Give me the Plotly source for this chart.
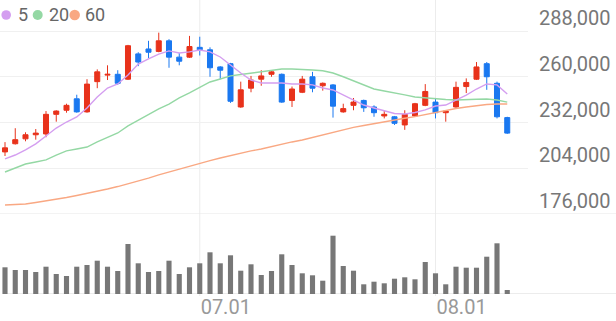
import plotly.graph_objects as go

# ---------------- data ----------------
dates = ["06.03", "06.04", "06.05", "06.07", "06.10", "06.11", "06.12", "06.13", "06.14",
         "06.17", "06.18", "06.19", "06.20", "06.21", "06.24", "06.25", "06.26", "06.27", "06.28",
         "07.01", "07.02", "07.03", "07.04", "07.05", "07.08", "07.09", "07.10", "07.11", "07.12",
         "07.15", "07.16", "07.17", "07.18", "07.19", "07.22", "07.23", "07.24", "07.25", "07.26",
         "07.29", "07.30", "07.31", "08.01", "08.02", "08.05", "08.06", "08.07", "08.08", "08.09",
         "08.12"]

opens = [214000, 219000, 222000, 224500, 225000, 237000, 239500, 246500, 238500, 257000,
         261000, 261500, 258500, 274000, 277000, 275500, 282000, 272000, 272000, 278000,
         276500, 266000, 268000, 241500, 253000, 258500, 261500, 261500, 245500, 250500,
         260000, 254500, 255000, 238500, 242500, 245500, 241500, 236000, 235500, 230500,
         236000, 242500, 244500, 238000, 241500, 254000, 258500, 268000, 256000, 235000]
highs = [220000, 228500, 226000, 228000, 239000, 239500, 243500, 249000, 258500, 264500,
         267000, 264000, 279500, 275000, 282000, 287000, 283000, 274500, 285000, 284500,
         278000, 266500, 268500, 257000, 260500, 264000, 263500, 262000, 254000, 260500,
         263000, 256500, 255500, 243500, 247000, 246000, 242500, 239000, 236000, 239500,
         244000, 255500, 247000, 239500, 257000, 259000, 269000, 269000, 257000, 235500]
lows = [211500, 218500, 220500, 221500, 223000, 232500, 238000, 238000, 238000, 253000,
        258000, 255000, 258000, 266500, 271500, 275000, 265500, 267000, 271500, 273000,
        260000, 258500, 244000, 241000, 250500, 254500, 260000, 244000, 241500, 250000,
        250500, 251500, 235000, 238000, 239500, 238500, 235500, 234500, 230500, 227500,
        235500, 242000, 234500, 232500, 241000, 250000, 258000, 252000, 234500, 225000]
closes = [216500, 221500, 224500, 225500, 237000, 239000, 242500, 238500, 255500, 263000,
          261500, 256000, 279000, 269000, 275000, 282000, 272000, 269500, 278500, 276500,
          265500, 264000, 245000, 252000, 258000, 260500, 263000, 244500, 252500, 258500,
          253000, 256000, 242000, 240500, 244500, 241000, 238000, 237000, 231500, 237000,
          243500, 251000, 238000, 239000, 253500, 256500, 266000, 260000, 235500, 225500]

ma5 = [209700, 212100, 215200, 218900, 223700, 228600, 232300, 235400, 240900, 247600,
       253100, 255600, 261100, 267800, 270900, 273900, 275800, 274500, 275200, 276400,
       275200, 272100, 267200, 262300, 258000, 256200, 256200, 256200, 255600, 255600,
       255000, 253100, 251900, 248800, 245800, 242700, 240900, 239000, 237500, 237200,
       238100, 239700, 242100, 242700, 245800, 248800, 252500, 255600, 255000, 249400]
ma20 = [201700, 204100, 206600, 207800, 209100, 212100, 214600, 215800, 217000, 220100,
        223100, 225600, 229900, 233500, 236600, 240300, 243300, 247000, 250100, 253700,
        256800, 258600, 260500, 261400, 262300, 263200, 264100, 264700, 264700, 264600,
        264100, 263700, 262300, 260000, 257400, 254900, 252500, 251300, 249900, 248900,
        247600, 247000, 246400, 246100, 245800, 245800, 246200, 246400, 245800, 244500]
ma60 = [181500, 181800, 182100, 183000, 183900, 184900, 186100, 187300, 188500, 190100,
        191300, 192800, 194400, 196200, 198000, 199900, 201700, 203600, 205400, 207200,
        208700, 210300, 211800, 213300, 214600, 215800, 217300, 218800, 220100, 221300,
        222800, 224400, 226200, 227700, 229000, 230200, 231400, 232600, 233500, 234600,
        235600, 236900, 238100, 239300, 240600, 241500, 242400, 243000, 243300, 243300]

volume = [267, 240, 240, 220, 273, 200, 180, 273, 290, 333,
          273, 230, 500, 307, 220, 230, 333, 200, 267, 307,
          417, 307, 387, 233, 297, 190, 230, 397, 290, 207,
          187, 133, 583, 280, 233, 97, 123, 107, 153, 167,
          147, 320, 207, 97, 273, 263, 263, 373, 507, 40]

x_ticks = ["07.01", "08.01"]
price_ticks = [176000, 204000, 232000, 260000, 288000]
ma_names = ["5", "20", "60"]

# ---------------- style ----------------
RED = "#e8321b"
BLUE = "#1a78f0"
MA_COLORS = ["#d49ef0", "#94d8a4", "#f9a883"]
VOL_COLOR = "#777777"
GRID = "#f0f0f0"
W, H = 616, 321
FONT = "Roboto"


def px(x):
    return x / W


def py(y):
    return 1 - y / H


x_end = 528
x_range = [-5 / 10.25, (x_end - 5) / 10.25]

fig = go.Figure()

fig.add_trace(go.Candlestick(
    x=dates, open=opens, high=highs, low=lows, close=closes,
    increasing=dict(line=dict(color=RED, width=1), fillcolor=RED),
    decreasing=dict(line=dict(color=BLUE, width=1), fillcolor=BLUE),
    whiskerwidth=0, xaxis="x", yaxis="y", showlegend=False, hoverinfo="skip",
))

for vals, col in zip([ma60, ma20, ma5], [MA_COLORS[2], MA_COLORS[1], MA_COLORS[0]]):
    fig.add_trace(go.Scatter(x=dates, y=vals, mode="lines",
                             line=dict(color=col, width=1.4),
                             xaxis="x", yaxis="y", showlegend=False, hoverinfo="skip"))

fig.add_trace(go.Bar(x=dates, y=volume, marker=dict(color=VOL_COLOR, line=dict(width=0)),
                     width=0.5, xaxis="x2", yaxis="y2", showlegend=False, hoverinfo="skip"))

shapes = []
# vertical gridlines through both panes (category index of each tick date)
for t in x_ticks:
    idx = dates.index(t)
    shapes.append(dict(type="line", xref="x", yref="paper", x0=idx, x1=idx,
                       y0=py(296), y1=1, line=dict(color="#ececec", width=1), layer="below"))
# bottom line of price pane & volume baseline (full width)
shapes.append(dict(type="line", xref="paper", yref="y", x0=0, x1=1, y0=176000, y1=176000,
                   line=dict(color="#e8e8e8", width=1.2), layer="below"))
shapes.append(dict(type="line", xref="paper", yref="y2", x0=px(3), x1=1, y0=0, y1=0,
                   line=dict(color="#e6e6e6", width=1.5), layer="below"))

# legend
legend_dots = [(6.2, 9.6), (37.7, 10), (74.7, 10.5)]
legend_text_x = [16, 46.5, 83]
annotations = []
for (cx, d), tx, name, col in zip(legend_dots, legend_text_x, ma_names, MA_COLORS):
    shapes.append(dict(type="circle", xref="paper", yref="paper",
                       x0=px(cx - d / 2), x1=px(cx + d / 2), y0=py(15 + d / 2), y1=py(15 - d / 2),
                       fillcolor=col, line=dict(width=0)))
    annotations.append(dict(xref="paper", yref="paper", x=px(tx), y=py(14.7), text=name,
                            showarrow=False, xanchor="left", yanchor="middle",
                            font=dict(family=FONT, size=18, color="#666666")))

fig.update_layout(
    width=W, height=H,
    margin=dict(l=0, r=0, t=0, b=0, autoexpand=False),
    paper_bgcolor="white", plot_bgcolor="white",
    showlegend=False,
    shapes=shapes, annotations=annotations,
    xaxis=dict(type="category", domain=[0, px(x_end)], range=x_range, anchor="y",
               showgrid=False, showticklabels=False, zeroline=False, showline=False,
               rangeslider=dict(visible=False), fixedrange=True, automargin=False),
    yaxis=dict(domain=[py(214), 1], range=[176000, 176000 + 214 * 112000 / 183],
               side="right", anchor="x", tickvals=price_ticks, tickformat=",",
               showgrid=True, gridcolor=GRID, gridwidth=1, zeroline=False, showline=False,
               ticks="", ticklabelshift=-13, ticklabelstandoff=10, automargin=False,
               tickfont=dict(family=FONT, size=20, color="#777777"), fixedrange=True),
    xaxis2=dict(type="category", domain=[0, px(x_end)], range=x_range, anchor="y2",
                matches="x", tickvals=x_ticks, ticktext=x_ticks, showgrid=False,
                zeroline=False, showline=False, ticks="", ticklabelshift=26,
                ticklabelstandoff=-1, automargin=False,
                tickfont=dict(family=FONT, size=20, color="#999999"), fixedrange=True),
    yaxis2=dict(domain=[py(294), py(222)], range=[0, 720], anchor="x2", automargin=False,
                showgrid=False, showticklabels=False, zeroline=False, showline=False,
                fixedrange=True),
)

fig.write_html("out.html")
